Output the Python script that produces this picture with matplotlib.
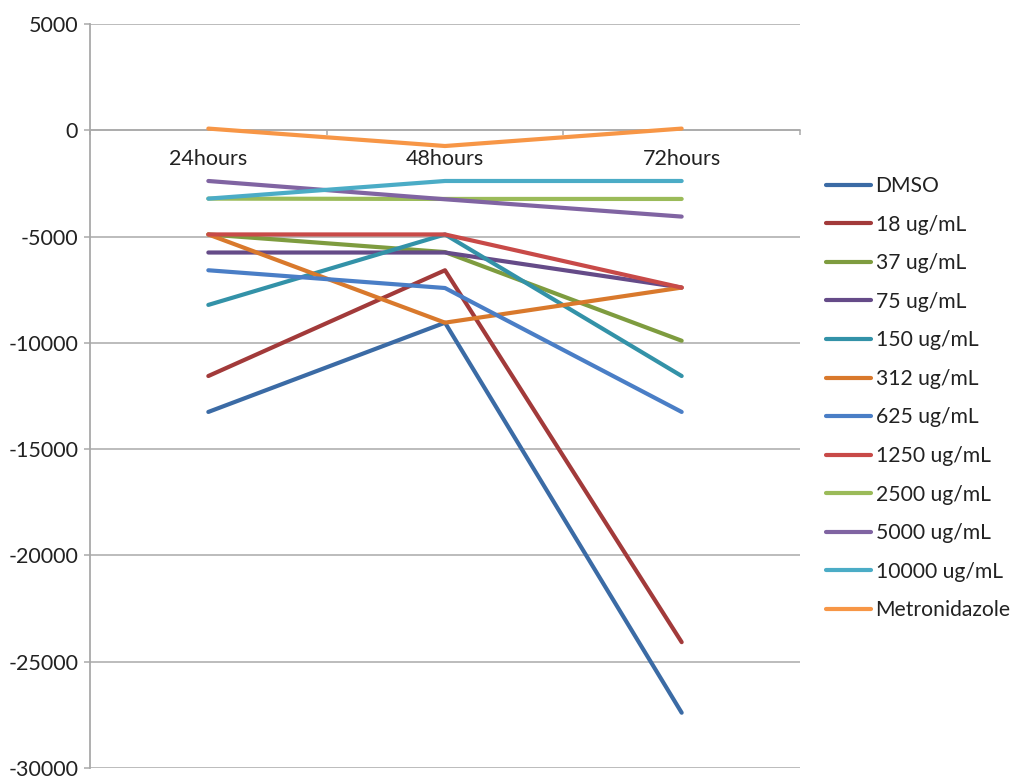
import matplotlib
matplotlib.use("Agg")
import matplotlib.pyplot as plt

# Time points and treatment groups
timepoints = ["24hours", "48hours", "72hours"]

dmso = [-13250, -9050, -27400]
ug18 = [-11560, -6585, -24080]
ug37 = [-4900, -5730, -9900]
ug75 = [-5750, -5750, -7400]
ug150 = [-8215, -4900, -11560]
ug312 = [-4900, -9050, -7400]
ug625 = [-6585, -7420, -13250]
ug1250 = [-4900, -4900, -7400]
ug2500 = [-3215, -3230, -3230]
ug5000 = [-2385, -3245, -4060]
ug10000 = [-3215, -2385, -2385]
metronidazole = [80, -740, 80]

series_names = ["DMSO", "18 ug/mL", "37 ug/mL", "75 ug/mL", "150 ug/mL",
                "312 ug/mL", "625 ug/mL", "1250 ug/mL", "2500 ug/mL",
                "5000 ug/mL", "10000 ug/mL", "Metronidazole"]
series_values = [dmso, ug18, ug37, ug75, ug150, ug312, ug625, ug1250,
                 ug2500, ug5000, ug10000, metronidazole]
colors = ["#3B6BA5", "#A23A3A", "#7E9C3F", "#654B88", "#3392A8", "#D9792C",
          "#4A7EC6", "#C84A48", "#9BBB59", "#8064A2", "#4BACC6", "#F79646"]

y_ticks = [5000, 0, -5000, -10000, -15000, -20000, -25000, -30000]

plt.rcParams["font.family"] = ["Lato", "DejaVu Sans"]
grid_color = "#A9A9A9"
text_color = "#222222"
fs = 15.5

W, H = 1013, 776
fig = plt.figure(figsize=(W / 100, H / 100), dpi=100)
ax = fig.add_axes([90 / W, 1 - 768 / H, (800 - 90) / W, (768 - 24) / H])

x = list(range(len(timepoints)))
for name, vals, c in zip(series_names, series_values, colors):
    ax.plot(x, vals, color=c, lw=3.0, label=name,
            solid_capstyle="round", solid_joinstyle="round", zorder=3)

ax.set_xlim(-0.5, len(timepoints) - 0.5)
ax.set_ylim(-30000, 5000)
ax.set_yticks(y_ticks)
ax.set_yticklabels([str(v) for v in y_ticks])
ax.tick_params(axis="y", length=4.5, width=1.1, color=grid_color,
               labelsize=fs, pad=4, labelcolor=text_color)

# horizontal gridlines
for v in y_ticks:
    ax.axhline(v, color=grid_color, lw=1.1, zorder=1)

for s in ["top", "right"]:
    ax.spines[s].set_visible(False)
ax.spines["left"].set_color(grid_color)
ax.spines["left"].set_linewidth(1.3)
ax.spines["bottom"].set_position(("data", 0))
ax.spines["bottom"].set_color(grid_color)
ax.spines["bottom"].set_linewidth(1.1)

# category boundary ticks on the zero axis
ax.set_xticks([-0.5, 0.5, 1.5, 2.5])
ax.set_xticklabels([])
ax.tick_params(axis="x", length=3.5, width=1.1, color=grid_color, direction="out")

# category labels sit just under the zero line
for xi, lab in zip(x, timepoints):
    ax.annotate(lab, xy=(xi, 0), xytext=(0, -13.5), textcoords="offset points",
                ha="center", va="top", fontsize=fs, color=text_color)

leg = fig.legend(loc="upper left", bbox_to_anchor=(826 / W, 1 - 176 / H),
                 frameon=False, fontsize=15.2, handlelength=2.15,
                 handletextpad=0.2, labelspacing=0.88, borderpad=0,
                 borderaxespad=0)
for t in leg.get_texts():
    t.set_color(text_color)

fig.savefig("out.png", dpi=100)
